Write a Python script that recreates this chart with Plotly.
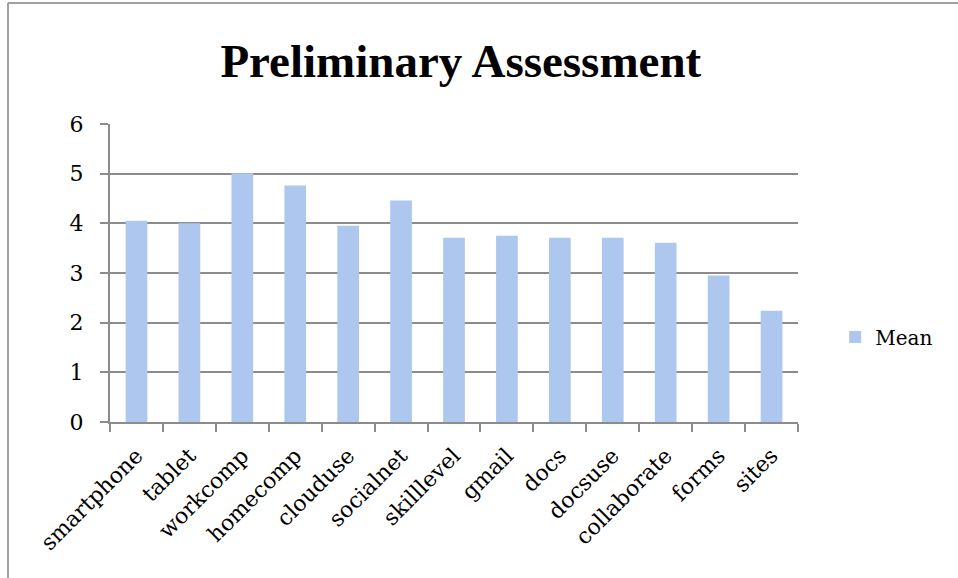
import plotly.graph_objects as go

categories = ["smartphone", "tablet", "workcomp", "homecomp", "clouduse", "socialnet",
              "skilllevel", "gmail", "docs", "docsuse", "collaborate", "forms", "sites"]
mean_values = [4.05, 4.0, 5.01, 4.76, 3.95, 4.46, 3.71, 3.75, 3.71, 3.71, 3.61, 2.95, 2.24]
y_ticks = [0, 1, 2, 3, 4, 5, 6]

FONT = "DejaVu Serif"
TFONT = "Liberation Serif"
AX = "#8c8c8c"

fig = go.Figure()
fig.add_trace(go.Bar(
    x=categories, y=mean_values, name="Mean",
    marker=dict(color="#adc7ee", line=dict(width=0)),
    width=0.41,
))

fig.update_layout(
    width=958, height=578,
    paper_bgcolor="white", plot_bgcolor="white",
    margin=dict(l=110, r=160, t=124, b=156),
    title=dict(text="<b>Preliminary Assessment</b>", x=0.481, xanchor="center",
               y=0.895, yanchor="middle",
               font=dict(family=TFONT, size=47, color="black")),
    font=dict(family=FONT, color="black"),
    showlegend=True,
    legend=dict(x=1.054, y=0.285, xanchor="left", yanchor="middle",
                font=dict(family=FONT, size=20), itemwidth=30),
)
fig.update_xaxes(
    type="category", showline=True, linecolor=AX, linewidth=2,
    ticks="outside", tickson="boundaries", ticklen=8, tickcolor=AX, tickwidth=2,
    tickangle=-45, tickfont=dict(family=FONT, size=22, color="black"),
    ticklabelstandoff=10, showgrid=False,
)
fig.update_yaxes(
    range=[0, 6], tickvals=y_ticks, showline=True, linecolor=AX, linewidth=2,
    ticks="outside", ticklen=8, tickcolor=AX, tickwidth=2,
    showgrid=True, gridcolor=AX, gridwidth=2,
    tickfont=dict(family=FONT, size=22, color="black"),
    ticklabelstandoff=12, zeroline=False,
)
# outer chart border (left and top edges visible)
fig.add_shape(type="line", xref="paper", yref="paper",
              x0=(8 - 110) / 688, x1=(8 - 110) / 688, y0=(422 - 580) / 298, y1=(422 - 3) / 298,
              line=dict(color="#a0a0a0", width=2))
fig.add_shape(type="line", xref="paper", yref="paper",
              x0=(8 - 110) / 688, x1=(960 - 110) / 688, y0=(422 - 3) / 298, y1=(422 - 3) / 298,
              line=dict(color="#a0a0a0", width=2))

fig.write_html("out.html", config={"displayModeBar": False},
               post_script="document.body.style.margin='0';")
